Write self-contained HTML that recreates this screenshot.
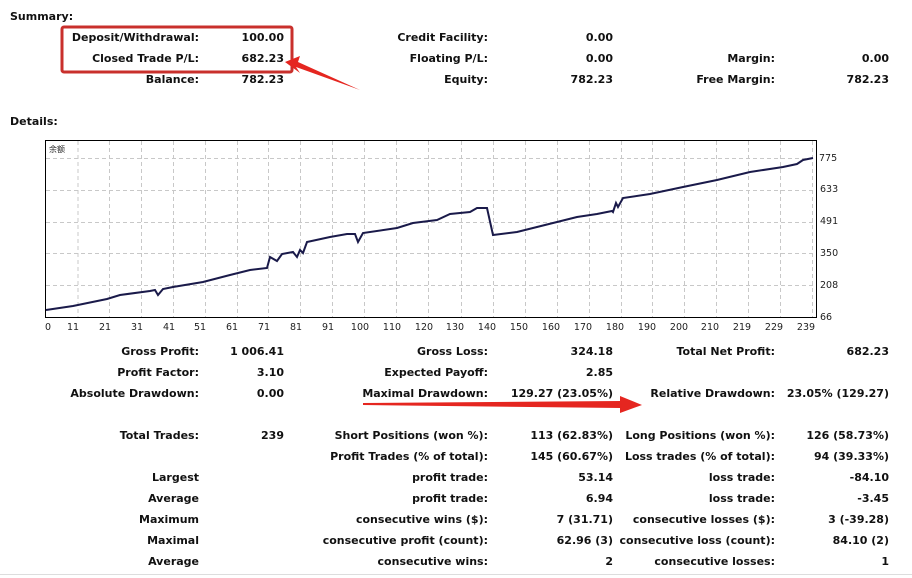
<!DOCTYPE html>
<html><head><meta charset="utf-8"><style>
body{margin:0;width:912px;height:578px;background:#fff;position:relative;overflow:hidden;font-family:"DejaVu Sans","Liberation Sans",sans-serif;font-weight:bold;font-size:11px;color:#111}
.t{position:absolute;white-space:nowrap;line-height:14px}
.r{text-align:right}
</style></head><body>
<div class="t" style="left:10px;top:10px">Summary:</div>
<div class="t" style="left:10px;top:115px">Details:</div>

<div class="t r" style="right:713px;top:31px">Deposit/Withdrawal:</div><div class="t r" style="right:628px;top:31px">100.00</div>
<div class="t r" style="right:713px;top:52px">Closed Trade P/L:</div><div class="t r" style="right:628px;top:52px">682.23</div>
<div class="t r" style="right:713px;top:73px">Balance:</div><div class="t r" style="right:628px;top:73px">782.23</div>
<div class="t r" style="right:424px;top:31px">Credit Facility:</div><div class="t r" style="right:299px;top:31px">0.00</div>
<div class="t r" style="right:424px;top:52px">Floating P/L:</div><div class="t r" style="right:299px;top:52px">0.00</div>
<div class="t r" style="right:424px;top:73px">Equity:</div><div class="t r" style="right:299px;top:73px">782.23</div>
<div class="t r" style="right:137px;top:52px">Margin:</div><div class="t r" style="right:23px;top:52px">0.00</div>
<div class="t r" style="right:137px;top:73px">Free Margin:</div><div class="t r" style="right:23px;top:73px">782.23</div>

<svg style="position:absolute;left:0;top:0" width="912" height="578">
<rect x="62" y="27" width="230" height="45" rx="2" fill="none" stroke="#c9302c" stroke-width="3"/>
<polygon points="285,62 300,56 298,62 360,90 296,67 300,73" fill="#e52620"/>
<polygon points="363,403 620,401 620,396 642,405 620,413 620,408 363,405" fill="#e52620"/>
<g font-family="DejaVu Sans,sans-serif" font-weight="normal" font-size="9.5" fill="#222">
<rect x="45.5" y="140.5" width="771" height="177" fill="#fff" stroke="#000"/>
<g stroke="#c8c8c8" stroke-dasharray="4,3" stroke-width="1">
<line x1="46" x2="816" y1="158.5" y2="158.5"/><line x1="46" x2="816" y1="190.5" y2="190.5"/><line x1="46" x2="816" y1="222.5" y2="222.5"/><line x1="46" x2="816" y1="253.5" y2="253.5"/><line x1="46" x2="816" y1="285.5" y2="285.5"/>
<line x1="78" x2="78" y1="141" y2="317"/><line x1="109.5" x2="109.5" y1="141" y2="317"/><line x1="141.5" x2="141.5" y1="141" y2="317"/><line x1="173.5" x2="173.5" y1="141" y2="317"/><line x1="205.5" x2="205.5" y1="141" y2="317"/><line x1="237.5" x2="237.5" y1="141" y2="317"/><line x1="268.5" x2="268.5" y1="141" y2="317"/><line x1="300.5" x2="300.5" y1="141" y2="317"/><line x1="332.5" x2="332.5" y1="141" y2="317"/><line x1="364.5" x2="364.5" y1="141" y2="317"/><line x1="396.5" x2="396.5" y1="141" y2="317"/><line x1="428.5" x2="428.5" y1="141" y2="317"/><line x1="461.5" x2="461.5" y1="141" y2="317"/><line x1="493.5" x2="493.5" y1="141" y2="317"/><line x1="525.5" x2="525.5" y1="141" y2="317"/><line x1="557.5" x2="557.5" y1="141" y2="317"/><line x1="589.5" x2="589.5" y1="141" y2="317"/><line x1="621.5" x2="621.5" y1="141" y2="317"/><line x1="652.5" x2="652.5" y1="141" y2="317"/><line x1="684.5" x2="684.5" y1="141" y2="317"/><line x1="716.5" x2="716.5" y1="141" y2="317"/><line x1="748.5" x2="748.5" y1="141" y2="317"/><line x1="780.5" x2="780.5" y1="141" y2="317"/><line x1="812.5" x2="812.5" y1="141" y2="317"/>
</g>
<text x="49" y="152" font-family="Noto Sans CJK SC,sans-serif" font-size="8">余额</text>
<polyline fill="none" stroke="#1a1a4a" stroke-width="2" points="46,310 73,306 107,299 120,295 150,291 155,290 158,295 163,289 173,287 203,282 230,275 250,270 267,268 270,257 277,261 282,254 293,252 297,257 300,250 303,253 307,242 330,237 347,234 355,234 358,242 363,233 397,228 413,223 437,220 450,214 470,212 477,208 487,208 493,235 517,232 557,222 577,217 597,214 612,211 613,212 616,203 618,207 623,198 650,194 683,187 717,180 750,172 783,167 797,164 803,160 813,158"/>
<g text-anchor="start"><text x="819" y="161">775</text><text x="820" y="192">633</text><text x="820" y="224">491</text><text x="820" y="256">350</text><text x="820" y="288">208</text><text x="820" y="320">66</text></g>
<g text-anchor="middle"><text x="48" y="330">0</text><text x="73" y="330">11</text><text x="105" y="330">21</text><text x="137" y="330">31</text><text x="169" y="330">41</text><text x="200" y="330">51</text><text x="232" y="330">61</text><text x="264" y="330">71</text><text x="296" y="330">81</text><text x="328" y="330">91</text><text x="360" y="330">100</text><text x="392" y="330">110</text><text x="424" y="330">120</text><text x="455" y="330">130</text><text x="487" y="330">140</text><text x="519" y="330">150</text><text x="551" y="330">160</text><text x="583" y="330">170</text><text x="615" y="330">180</text><text x="647" y="330">190</text><text x="679" y="330">200</text><text x="710" y="330">210</text><text x="742" y="330">219</text><text x="774" y="330">229</text><text x="806" y="330">239</text></g>
</g>
<line x1="0" x2="912" y1="574.5" y2="574.5" stroke="#ddd"/>
</svg>

<div class="t r" style="right:713px;top:345px">Gross Profit:</div><div class="t r" style="right:628px;top:345px">1 006.41</div>
<div class="t r" style="right:713px;top:366px">Profit Factor:</div><div class="t r" style="right:628px;top:366px">3.10</div>
<div class="t r" style="right:713px;top:387px">Absolute Drawdown:</div><div class="t r" style="right:628px;top:387px">0.00</div>
<div class="t r" style="right:713px;top:429px">Total Trades:</div><div class="t r" style="right:628px;top:429px">239</div>
<div class="t r" style="right:713px;top:471px">Largest</div>
<div class="t r" style="right:713px;top:492px">Average</div>
<div class="t r" style="right:713px;top:513px">Maximum</div>
<div class="t r" style="right:713px;top:534px">Maximal</div>
<div class="t r" style="right:713px;top:555px">Average</div>

<div class="t r" style="right:424px;top:345px">Gross Loss:</div><div class="t r" style="right:299px;top:345px">324.18</div>
<div class="t r" style="right:424px;top:366px">Expected Payoff:</div><div class="t r" style="right:299px;top:366px">2.85</div>
<div class="t r" style="right:424px;top:387px">Maximal Drawdown:</div><div class="t r" style="right:299px;top:387px">129.27 (23.05%)</div>
<div class="t r" style="right:424px;top:429px">Short Positions (won %):</div><div class="t r" style="right:299px;top:429px">113 (62.83%)</div>
<div class="t r" style="right:424px;top:450px">Profit Trades (% of total):</div><div class="t r" style="right:299px;top:450px">145 (60.67%)</div>
<div class="t r" style="right:424px;top:471px">profit trade:</div><div class="t r" style="right:299px;top:471px">53.14</div>
<div class="t r" style="right:424px;top:492px">profit trade:</div><div class="t r" style="right:299px;top:492px">6.94</div>
<div class="t r" style="right:424px;top:513px">consecutive wins ($):</div><div class="t r" style="right:299px;top:513px">7 (31.71)</div>
<div class="t r" style="right:424px;top:534px">consecutive profit (count):</div><div class="t r" style="right:299px;top:534px">62.96 (3)</div>
<div class="t r" style="right:424px;top:555px">consecutive wins:</div><div class="t r" style="right:299px;top:555px">2</div>

<div class="t r" style="right:137px;top:345px">Total Net Profit:</div><div class="t r" style="right:23px;top:345px">682.23</div>
<div class="t r" style="right:137px;top:387px">Relative Drawdown:</div><div class="t r" style="right:23px;top:387px">23.05% (129.27)</div>
<div class="t r" style="right:137px;top:429px">Long Positions (won %):</div><div class="t r" style="right:23px;top:429px">126 (58.73%)</div>
<div class="t r" style="right:137px;top:450px">Loss trades (% of total):</div><div class="t r" style="right:23px;top:450px">94 (39.33%)</div>
<div class="t r" style="right:137px;top:471px">loss trade:</div><div class="t r" style="right:23px;top:471px">-84.10</div>
<div class="t r" style="right:137px;top:492px">loss trade:</div><div class="t r" style="right:23px;top:492px">-3.45</div>
<div class="t r" style="right:137px;top:513px">consecutive losses ($):</div><div class="t r" style="right:23px;top:513px">3 (-39.28)</div>
<div class="t r" style="right:137px;top:534px">consecutive loss (count):</div><div class="t r" style="right:23px;top:534px">84.10 (2)</div>
<div class="t r" style="right:137px;top:555px">consecutive losses:</div><div class="t r" style="right:23px;top:555px">1</div>
</body></html>
